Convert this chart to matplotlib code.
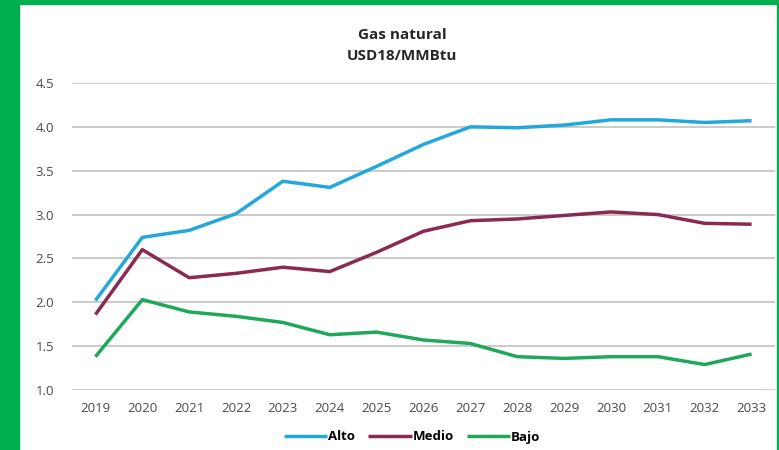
import matplotlib.pyplot as plt
from matplotlib.patches import Rectangle

# data
years = ['2019', '2020', '2021', '2022', '2023', '2024', '2025', '2026',
         '2027', '2028', '2029', '2030', '2031', '2032', '2033']
alto = [2.02, 2.74, 2.82, 3.01, 3.38, 3.31, 3.55, 3.80, 4.00, 3.99, 4.02, 4.08, 4.08, 4.05, 4.07]
medio = [1.86, 2.60, 2.28, 2.33, 2.40, 2.35, 2.57, 2.81, 2.93, 2.95, 2.99, 3.03, 3.00, 2.90, 2.89]
bajo = [1.38, 2.03, 1.89, 1.84, 1.77, 1.63, 1.66, 1.57, 1.53, 1.38, 1.36, 1.38, 1.38, 1.29, 1.41]
y_ticks = [1.0, 1.5, 2.0, 2.5, 3.0, 3.5, 4.0, 4.5]

plt.rcParams['font.family'] = ['Open Sans', 'DejaVu Sans']

fig = plt.figure(figsize=(7.79, 4.5), dpi=100)

# green frame around the picture
green = '#00B050'
fig.patches.append(Rectangle((0, 0), 19 / 779, 1, transform=fig.transFigure, color=green, zorder=0))
fig.patches.append(Rectangle((0, 1 - 4 / 450), 1, 4 / 450, transform=fig.transFigure, color=green, zorder=0))
fig.patches.append(Rectangle((1 - 2 / 779, 0), 2 / 779, 1, transform=fig.transFigure, color=green, zorder=0))

ax = fig.add_axes([72 / 779, 1 - 390 / 450, 703 / 779, 307 / 450])

x = range(len(years))
ax.plot(x, alto, color='#22A8DC', lw=2.5, label='Alto', solid_capstyle='butt')
ax.plot(x, medio, color='#8A2A50', lw=2.5, label='Medio', solid_capstyle='butt')
ax.plot(x, bajo, color='#1FA85A', lw=2.5, label='Bajo', solid_capstyle='butt')

ax.set_xlim(-0.5, len(years) - 0.5)
ax.set_ylim(1.0, 4.5)
ax.set_yticks(y_ticks)
ax.set_yticklabels([f'{v:.1f}' for v in y_ticks])
ax.set_xticks(list(x))
ax.set_xticklabels(years)
ax.yaxis.grid(True, color='#BDBDBD', lw=1.1)
ax.set_axisbelow(True)
for s in ax.spines.values():
    s.set_visible(False)
ax.tick_params(length=0, labelsize=9.5, labelcolor='#4A4A4A')
ax.tick_params(axis='y', pad=13)
ax.tick_params(axis='x', pad=9)

fig.text(0.516, 1 - 35 / 450, 'Gas natural', ha='center', va='center',
         fontsize=11, fontweight='bold', color='#262626')
fig.text(0.516, 1 - 56 / 450, 'USD18/MMBtu', ha='center', va='center',
         fontsize=11, fontweight='bold', color='#262626')

fig.legend(loc='center', bbox_to_anchor=(0.529, 1 - 437 / 450), ncol=3, frameon=False,
           handlelength=3.3, handletextpad=0.05, columnspacing=1.0,
           prop={'weight': 'bold', 'size': 9.5})

fig.savefig('out.png', dpi=100)
